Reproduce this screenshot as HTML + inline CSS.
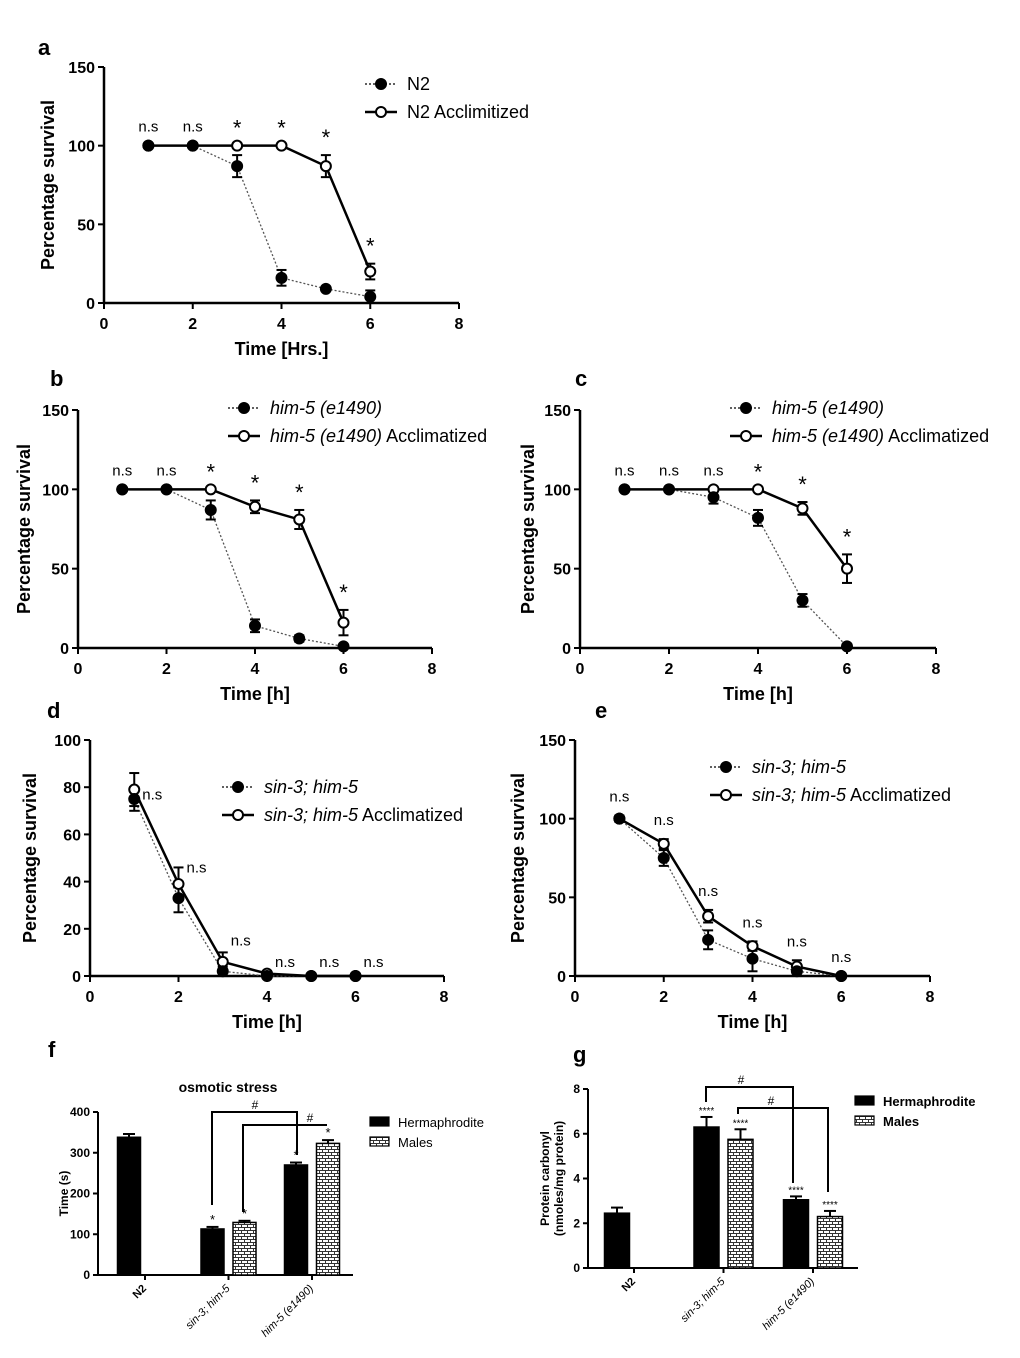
<!DOCTYPE html>
<html><head><meta charset="utf-8">
<style>
body{margin:0;background:#fff;}
svg{display:block;font-family:"Liberation Sans",Arial,sans-serif;}
</style></head>
<body>
<svg id="fig" width="1020" height="1358" viewBox="0 0 1020 1358" xmlns="http://www.w3.org/2000/svg"></svg>
<script>
// ---- data ----
const hours = [1,2,3,4,5,6];
const aCtrl = [100,100,87,16,9,4];
const aCtrlErr = [0,0,7,5,1,4];
const aAccl = [100,100,100,100,87,20];
const aAcclErr = [0,0,0,0,7,5];
const aMarks = ["n.s","n.s","*","*","*","*"];
const bCtrl = [100,100,87,14,6,1];
const bCtrlErr = [0,0,6,4,2,1];
const bAccl = [100,100,100,89,81,16];
const bAcclErr = [0,0,0,4,6,8];
const bMarks = ["n.s","n.s","*","*","*","*"];
const cCtrl = [100,100,95,82,30,1];
const cCtrlErr = [0,0,4,5,4,1];
const cAccl = [100,100,100,100,88,50];
const cAcclErr = [0,0,0,0,4,9];
const cMarks = ["n.s","n.s","n.s","*","*","*"];
const dCtrl = [75,33,2,0,0,0];
const dCtrlErr = [5,6,2,0,0,0];
const dAccl = [79,39,6,1,0,0];
const dAcclErr = [7,7,4,1,0,0];
const dMarks = ["n.s","n.s","n.s","n.s","n.s","n.s"];
const dMarkLevels = [77,46,15,6,6,6];
const eCtrl = [100,75,23,11,3,0];
const eCtrlErr = [2,5,6,8,3,0];
const eAccl = [100,84,38,19,6,0];
const eAcclErr = [1,3,4,3,4,0];
const eMarks = ["n.s","n.s","n.s","n.s","n.s","n.s"];
const groups = ["N2","sin-3; him-5","him-5 (e1490)"];
const fHerm = [338,113,270];
const fHermErr = [8,5,6];
const fMale = [null,129,323];
const fMaleErr = [null,4,8];
const fTicks = [0,100,200,300,400];
const gHerm = [2.45,6.3,3.05];
const gHermErr = [0.25,0.45,0.15];
const gMale = [null,5.75,2.3];
const gMaleErr = [null,0.45,0.25];
const gTicks = [0,2,4,6,8];
const xTicks = [0,2,4,6,8];

const NS="http://www.w3.org/2000/svg";
const svg=document.getElementById('fig');
function el(tag,attrs,parent,text){
  const e=document.createElementNS(NS,tag);
  for(const k in attrs) e.setAttribute(k,attrs[k]);
  if(text!==undefined) e.textContent=text;
  (parent||svg).appendChild(e);
  return e;
}
const defs=el('defs',{});
const pat=el('pattern',{id:'brick',width:6,height:6,patternUnits:'userSpaceOnUse'},defs);
el('rect',{width:6,height:6,fill:'#fff'},pat);
el('path',{d:'M0 0.5H6M0 3.5H6M1.5 0.5V3.5M4.5 3.5V6.5',stroke:'#333','stroke-width':1,fill:'none'},pat);

function linePanel(o){
  const g=el('g',{});  
  const X=v=>o.x0+(o.x1-o.x0)*v/8;
  const Y=v=>o.y0-(o.y0-o.y1)*v/o.ymax;
  const t=el('text',{x:o.lx,y:o.ly,'font-size':22,'font-weight':'bold'},g,o.letter);
   
  el('line',{x1:o.x0,y1:o.y1,x2:o.x0,y2:o.y0,stroke:'#000','stroke-width':2.5},g);
  el('line',{x1:o.x0,y1:o.y0,x2:o.x1,y2:o.y0,stroke:'#000','stroke-width':2.5},g);
  o.yt.forEach(v=>{el('line',{x1:o.x0-6,y1:Y(v),x2:o.x0,y2:Y(v),stroke:'#000','stroke-width':2},g);
    el('text',{x:o.x0-9,y:Y(v)+6,'font-size':16,'font-weight':'bold','text-anchor':'end'},g,v);});
  xTicks.forEach(v=>{el('line',{x1:X(v),y1:o.y0,x2:X(v),y2:o.y0+6,stroke:'#000','stroke-width':2},g);
    el('text',{x:X(v),y:o.y0+26,'font-size':16,'font-weight':'bold','text-anchor':'middle'},g,v);});
  const xt=el('text',{x:(o.x0+o.x1)/2,y:o.y0+52,'font-size':18,'font-weight':'bold','text-anchor':'middle'},g,o.xtitle);
   
  const cy=(o.y0+o.y1)/2;
  const yt=el('text',{x:o.ytx,y:cy,'font-size':18,'font-weight':'bold','text-anchor':'middle',transform:`rotate(-90 ${o.ytx} ${cy})`},g,'Percentage survival');
   
  const series=[[o.ctrl,o.ctrlErr,true],[o.accl,o.acclErr,false]];
  series.forEach(([vals,errs,dotted])=>{
    const pts=hours.map((h,i)=>X(h)+','+Y(vals[i])).join(' ');
    const pl=el('polyline',{points:pts,fill:'none',stroke:dotted?'#555':'#000','stroke-width':dotted?1.3:2.5,'stroke-dasharray':dotted?'2,2':'none'},g);
     
    hours.forEach((h,i)=>{
      if(errs[i]>0){el('line',{x1:X(h),y1:Y(vals[i]-errs[i]),x2:X(h),y2:Y(vals[i]+errs[i]),stroke:'#000','stroke-width':2},g);
        [vals[i]-errs[i],vals[i]+errs[i]].forEach(v=>el('line',{x1:X(h)-5,y1:Y(v),x2:X(h)+5,y2:Y(v),stroke:'#000','stroke-width':2},g));}
    });
  });
  series.slice().reverse().forEach(([vals,errs,dotted])=>{
    hours.forEach((h,i)=>{
      const c=el('circle',{cx:X(h),cy:Y(vals[i]),r:5,fill:dotted?'#000':'#fff',stroke:'#000','stroke-width':2},g);
       
    });
  });
  hours.forEach((h,i)=>{
    const top=Math.max(o.ctrl[i]+o.ctrlErr[i],o.accl[i]+o.acclErr[i]);
    const m=o.marks[i];
    let x=X(h), y=Y(top)-(m==='*'?10:14), anchor='middle';
    if(o.markLevels){x=X(h)+8; y=Y(o.markLevels[i])+5; anchor='start';}
    const tx=el('text',{x:x,y:y,'font-size':m==='*'?22:15,'text-anchor':anchor},g,m);
     
  });
  [[o.leg1,true,o.legy],[o.leg2,false,o.legy+28]].forEach(([lab,dotted,y])=>{
    const lg=el('g',{},g);  
    el('line',{x1:o.legx,y1:y,x2:o.legx+32,y2:y,stroke:'#000','stroke-width':dotted?1.3:2.5,'stroke-dasharray':dotted?'2,2':'none'},lg);
    el('circle',{cx:o.legx+16,cy:y,r:5,fill:dotted?'#000':'#fff',stroke:'#000','stroke-width':2},lg);
    const t=el('text',{x:o.legx+42,y:y+6,'font-size':18},lg);
    lab.forEach(([s,it])=>{el('tspan',{'font-style':it?'italic':'normal'},t,s);});
  });
}
const him=[["him-5 (e1490)",true]], himA=[["him-5 (e1490)",true],[" Acclimatized",false]];
const sin=[["sin-3; him-5",true]], sinA=[["sin-3; him-5",true],[" Acclimatized",false]];
linePanel({name:'panel-a',letter:'a',lx:38,ly:55,x0:104,x1:459,y0:303,y1:67,ymax:150,yt:[0,50,100,150],xtitle:'Time [Hrs.]',ytx:54,ctrl:aCtrl,ctrlErr:aCtrlErr,accl:aAccl,acclErr:aAcclErr,marks:aMarks,legx:365,legy:84,leg1:[["N2",false]],leg2:[["N2 Acclimitized",false]]});
linePanel({name:'panel-b',letter:'b',lx:50,ly:386,x0:78,x1:432,y0:648,y1:410,ymax:150,yt:[0,50,100,150],xtitle:'Time [h]',ytx:30,ctrl:bCtrl,ctrlErr:bCtrlErr,accl:bAccl,acclErr:bAcclErr,marks:bMarks,legx:228,legy:408,leg1:him,leg2:himA});
linePanel({name:'panel-c',letter:'c',lx:575,ly:386,x0:580,x1:936,y0:648,y1:410,ymax:150,yt:[0,50,100,150],xtitle:'Time [h]',ytx:534,ctrl:cCtrl,ctrlErr:cCtrlErr,accl:cAccl,acclErr:cAcclErr,marks:cMarks,legx:730,legy:408,leg1:him,leg2:himA});
linePanel({name:'panel-d',letter:'d',lx:47,ly:718,x0:90,x1:444,y0:976,y1:740,ymax:100,yt:[0,20,40,60,80,100],xtitle:'Time [h]',ytx:36,ctrl:dCtrl,ctrlErr:dCtrlErr,accl:dAccl,acclErr:dAcclErr,marks:dMarks,markLevels:dMarkLevels,legx:222,legy:787,leg1:sin,leg2:sinA});
linePanel({name:'panel-e',letter:'e',lx:595,ly:718,x0:575,x1:930,y0:976,y1:740,ymax:150,yt:[0,50,100,150],xtitle:'Time [h]',ytx:524,ctrl:eCtrl,ctrlErr:eCtrlErr,accl:eAccl,acclErr:eAcclErr,marks:eMarks,legx:710,legy:767,leg1:sin,leg2:sinA});

function barPanel(o){
  const g=el('g',{});  
  const ymax=o.ticks[o.ticks.length-1];
  const Y=v=>o.y0-(o.y0-o.y1)*v/ymax;
  const t=el('text',{x:o.lx,y:o.ly,'font-size':22,'font-weight':'bold'},g,o.letter);
   
  if(o.title){const tt=el('text',{x:o.titlex,y:o.titley,'font-size':14,'font-weight':'bold','text-anchor':'middle'},g,o.title);
     }
  el('line',{x1:o.x0,y1:o.y1,x2:o.x0,y2:o.y0,stroke:'#000','stroke-width':2},g);
  el('line',{x1:o.x0,y1:o.y0,x2:o.x1,y2:o.y0,stroke:'#000','stroke-width':2},g);
  o.ticks.forEach(v=>{el('line',{x1:o.x0-5,y1:Y(v),x2:o.x0,y2:Y(v),stroke:'#000','stroke-width':2},g);
    el('text',{x:o.x0-8,y:Y(v)+4,'font-size':12,'font-weight':'bold','text-anchor':'end'},g,v);});
  const cy=(o.y0+o.y1)/2;
  const yt=el('text',{x:o.ytx,y:cy,'font-size':12,'font-weight':'bold','text-anchor':'middle',transform:`rotate(-90 ${o.ytx} ${cy})`},g);
   
  o.ytitle.forEach((s,i)=>el('tspan',{x:o.ytx,dy:i?14:(o.ytitle.length>1?-7:0)},yt,s));
  const bw=o.bw;
  groups.forEach((name,i)=>{
    const c=o.gx0+i*o.gstep;
    el('line',{x1:c,y1:o.y0,x2:c,y2:o.y0+5,stroke:'#000','stroke-width':2},g);
    const lab=el('text',{x:c+2,y:o.y0+14,'font-size':11,'font-weight':i===0?'bold':'normal','font-style':i===0?'normal':'italic','text-anchor':'end',transform:`rotate(-45 ${c+2} ${o.y0+14})`},g,name);
     
    [[o.herm[i],o.hermErr[i],c-o.off,'#000'],[o.male[i],o.maleErr[i],c+o.off,'url(#brick)']].forEach(([v,e,x,fill],k)=>{
      if(v===null) return;
      const r=el('rect',{x:x-bw/2,y:Y(v),width:bw,height:o.y0-Y(v),fill:fill,stroke:'#000','stroke-width':1.5},g);
       
      el('line',{x1:x,y1:Y(v),x2:x,y2:Y(v+e),stroke:'#000','stroke-width':2},g);
      el('line',{x1:x-6,y1:Y(v+e),x2:x+6,y2:Y(v+e),stroke:'#000','stroke-width':2},g);
      if(i>0){const s=el('text',{x:x,y:Y(v+e)-3,'font-size':o.starSize,'text-anchor':'middle'},g,o.star);
         }
    });
  });
  o.brackets.forEach(b=>{
    el('polyline',{points:`${b.xa},${b.ya} ${b.xa},${b.y} ${b.xb},${b.y} ${b.xb},${b.yb}`,fill:'none',stroke:'#000','stroke-width':2},g);
    el('text',{x:b.hx,y:b.y-3,'font-size':12,'text-anchor':'middle'},g,'#');
  });
  [['Hermaphrodite','#000',o.legy],['Males','url(#brick)',o.legy+20]].forEach(([lab,fill,y])=>{
    const lg=el('g',{},g);  
    el('rect',{x:o.legx,y:y-5,width:19,height:9,fill:fill,stroke:'#000','stroke-width':1.2},lg);
    el('text',{x:o.legx+28,y:y+5,'font-size':13,'font-weight':o.legBold?'bold':'normal'},lg,lab);
  });
}
barPanel({name:'panel-f',letter:'f',lx:48,ly:1057,title:'osmotic stress',titlex:228,titley:1092,x0:98,x1:353,y0:1275,y1:1112,ticks:fTicks,ytitle:['Time (s)'],ytx:68,gx0:145,gstep:83.5,off:16,bw:23,herm:fHerm,hermErr:fHermErr,male:fMale,maleErr:fMaleErr,star:'*',starSize:13,
  brackets:[{xa:212,ya:1205,xb:297,yb:1155,y:1112,hx:255},{xa:243,ya:1212,xb:327,yb:1125,y:1125,hx:310}],legx:370,legy:1122,legBold:false});
barPanel({name:'panel-g',letter:'g',lx:573,ly:1062,x0:588,x1:858,y0:1268,y1:1089,ticks:gTicks,ytitle:['Protein carbonyl','(nmoles/mg protein)'],ytx:556,gx0:634,gstep:89.5,off:17,bw:25,herm:gHerm,hermErr:gHermErr,male:gMale,maleErr:gMaleErr,star:'****',starSize:10,
  brackets:[{xa:706,ya:1102,xb:793,yb:1183,y:1087,hx:741},{xa:738,ya:1114,xb:828,yb:1192,y:1108,hx:771}],legx:855,legy:1101,legBold:true});
</script>
</body></html>
